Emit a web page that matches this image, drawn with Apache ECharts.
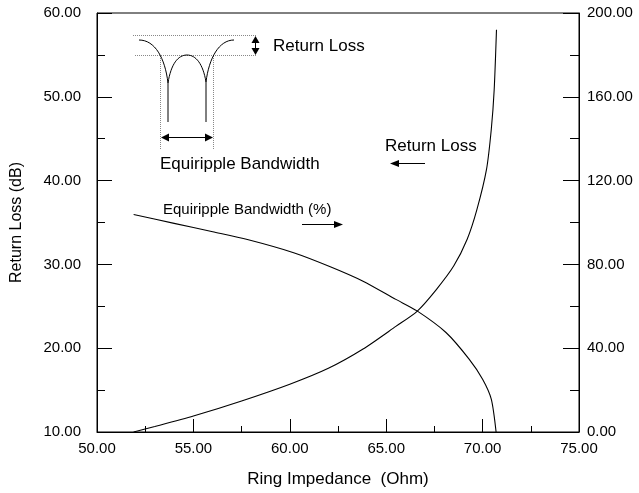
<!DOCTYPE html>
<html>
<head>
<meta charset="utf-8">
<script src="https://cdn.jsdelivr.net/npm/echarts@6/dist/echarts.min.js"></script>
<style>html,body{margin:0;padding:0;background:#fff;}#c{width:639px;height:493px;}</style>
</head>
<body>
<div id="c"></div>
<script>
// Return loss curve (left axis, dB) vs ring impedance (Ohm)
const rlImpedance = [51.9, 53.0, 55.0, 57.5, 60.0, 62.0, 63.8, 65.5, 66.6, 67.6, 68.5, 69.2, 69.7, 70.2, 70.45, 70.6, 70.72];
const returnLoss  = [10.0, 10.65, 11.9, 13.7, 15.7, 17.6, 19.9, 22.6, 24.4, 27.0, 29.8, 33.0, 36.5, 41.3, 46.1, 50.8, 58.0];
// Equiripple bandwidth curve (right axis, %) vs ring impedance
const bwImpedance = [51.9, 54.0, 56.0, 57.8, 60.2, 62.1, 63.8, 65.5, 66.6, 68.1, 69.3, 70.0, 70.45, 70.7];
const bandwidth   = [103.8, 99.6, 95.6, 91.9, 85.6, 78.9, 72.0, 63.3, 57.8, 47.5, 34.8, 25.2, 15.7, 0];
// Axis settings
const xRange = [50, 75, 5];
const leftRange = [10, 60, 10];
const rightRange = [0, 200, 40];
const xName = 'Ring Impedance  (Ohm)';
const leftName = 'Return Loss (dB)';

const FONT = "'Liberation Sans', Arial, sans-serif";
const chart = echarts.init(document.getElementById('c'));
const pairs = (xs, ys) => xs.map((x, i) => [x, ys[i]]);
const fmt = v => v.toFixed(2);

const axisCommon = {
  axisLine: {show: true, lineStyle: {color: '#000', width: 1}},
  axisTick: {show: true, inside: true, length: 15, lineStyle: {color: '#000', width: 1}},
  minorTick: {show: true, splitNumber: 2, length: 8, lineStyle: {color: '#000', width: 1}},
  splitLine: {show: false},
  axisLabel: {color: '#000', fontSize: 15, fontFamily: FONT, formatter: fmt}
};

const T = (x, y, text, size, align) => ({
  type: 'text', x: x, y: y,
  style: {text: text, fill: '#000', font: size + 'px ' + FONT, textAlign: align || 'left', textVerticalAlign: 'middle'}
});
const L = (x1, y1, x2, y2, dash, color) => ({
  type: 'line', shape: {x1, y1, x2, y2},
  style: {stroke: color || '#000', lineWidth: 1, lineDash: dash || null}
});
const head = (pts) => ({type: 'polygon', shape: {points: pts}, style: {fill: '#000'}});
const B = (x1, y1, c1x, c1y, c2x, c2y, x2, y2) => ({
  type: 'bezierCurve', shape: {x1, y1, cpx1: c1x, cpy1: c1y, cpx2: c2x, cpy2: c2y, x2, y2},
  style: {stroke: '#000', lineWidth: 1, fill: null}
});

const graphics = [
  // inset schematic
  L(133, 35.5, 257, 35.5, [1, 1], '#888'),
  L(135, 55.5, 257, 55.5, [1, 1], '#888'),
  L(160.5, 56, 160.5, 150, [1, 1], '#888'),
  L(213.5, 56, 213.5, 150, [1, 1], '#888'),
  B(139, 40, 155, 40, 165, 58, 168, 83),
  L(168, 83, 168, 122),
  B(168, 83, 171, 64, 178, 55, 187, 55),
  B(187, 55, 196, 55, 203, 64, 206, 82),
  L(206, 82, 206, 122),
  B(206, 82, 209, 58, 219, 40, 234, 40),
  // horizontal double arrow
  L(166, 137.5, 208, 137.5),
  head([[161, 137.5], [169, 133.5], [169, 141.5]]),
  head([[213, 137.5], [205, 133.5], [205, 141.5]]),
  // vertical double arrow
  L(255.5, 40, 255.5, 51),
  head([[255.5, 36], [251.5, 43], [259.5, 43]]),
  head([[255.5, 55], [251.5, 48], [259.5, 48]]),
  T(273, 46, 'Return Loss', 17),
  T(160, 164, 'Equiripple Bandwidth', 17),
  // curve labels
  T(385, 146, 'Return Loss', 17),
  L(397, 163.5, 425, 163.5),
  head([[390, 163.5], [399, 160], [399, 167]]),
  T(163, 210, 'Equiripple Bandwidth (%)', 15),
  L(302, 224.5, 335, 224.5),
  head([[343, 224.5], [334, 221], [334, 228]])
];

chart.setOption({
  animation: false,
  backgroundColor: '#fff',
  grid: {left: 97, right: 60, top: 13, bottom: 60, show: true, borderColor: '#000', borderWidth: 1, containLabel: false},
  xAxis: Object.assign({}, axisCommon, {
    type: 'value', min: xRange[0], max: xRange[1], interval: xRange[2],
    axisTick: Object.assign({}, axisCommon.axisTick, {length: 13}),
    minorTick: Object.assign({}, axisCommon.minorTick, {length: 6}),
    axisLabel: Object.assign({}, axisCommon.axisLabel, {margin: 9}),
    name: xName, nameLocation: 'middle', nameGap: 39,
    nameTextStyle: {color: '#000', fontSize: 17, fontFamily: FONT}
  }),
  yAxis: [
    Object.assign({}, axisCommon, {
      type: 'value', position: 'left', min: leftRange[0], max: leftRange[1], interval: leftRange[2],
      axisLabel: Object.assign({}, axisCommon.axisLabel, {margin: 16}),
      name: leftName, nameLocation: 'middle', nameGap: 72, nameRotate: 90,
      nameTextStyle: {color: '#000', fontSize: 16, fontFamily: FONT}
    }),
    Object.assign({}, axisCommon, {
      type: 'value', position: 'right', min: rightRange[0], max: rightRange[1], interval: rightRange[2],
      axisTick: Object.assign({}, axisCommon.axisTick, {length: 16}),
      minorTick: Object.assign({}, axisCommon.minorTick, {length: 9}),
      axisLabel: Object.assign({}, axisCommon.axisLabel, {margin: 8})
    })
  ],
  series: [
    {type: 'line', yAxisIndex: 0, data: pairs(rlImpedance, returnLoss), smooth: 0.25,
     showSymbol: false, lineStyle: {color: '#000', width: 1.1}},
    {type: 'line', yAxisIndex: 1, data: pairs(bwImpedance, bandwidth), smooth: 0.25,
     showSymbol: false, lineStyle: {color: '#000', width: 1.1}}
  ],
  graphic: graphics
});
</script>
</body>
</html>
